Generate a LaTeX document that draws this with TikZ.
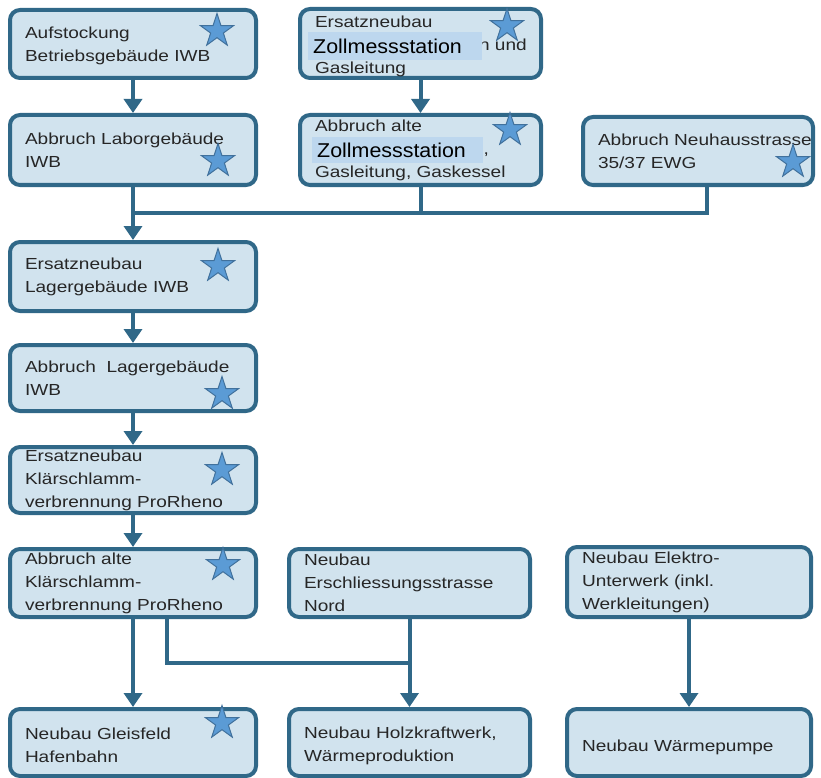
\documentclass[tikz,border=0pt]{standalone}
\usepackage{fontspec}
\usepackage{tikz}
\usetikzlibrary{arrows.meta,shapes.geometric}
\newfontfamily\boxfont[FakeStretch=1.19]{Liberation Sans}
\newfontfamily\zollfont[FakeStretch=1.07]{Liberation Sans}
\definecolor{linec}{RGB}{48,104,136}
\definecolor{boxc}{RGB}{209,227,238}
\definecolor{zollc}{RGB}{189,215,238}
\definecolor{textc}{RGB}{38,38,38}
\definecolor{starc}{RGB}{91,155,213}
\definecolor{stard}{RGB}{65,113,156}
\hyphenpenalty=10000
\tikzset{
  box/.style={draw=linec, fill=boxc, line width=4pt, rounded corners=10pt,
    align=left, inner xsep=15pt, inner ysep=0pt, text=textc,
    font=\boxfont\fontsize{16pt}{23pt}\selectfont},
  zoll/.style={fill=zollc, anchor=north west, align=left, inner xsep=5pt,
    inner ysep=0pt, text=black, font=\zollfont\fontsize{20pt}{24pt}\selectfont},
  starmark/.style={star, star points=5, star point ratio=2.618, minimum size=35pt,
    inner sep=0pt, fill=starc, draw=stard, line width=1pt},
  link/.style={draw=linec, line width=4pt},
  arr/.style={link, -{Triangle[width=18pt,length=14pt]}}
}
\begin{document}
\begin{tikzpicture}[x=1pt,y=-1pt]
\useasboundingbox (0,0) rectangle (821,778);
%%   kw   (name)   (x, y)   {text}
    \node[box, minimum height=68pt, text width=216pt] (A) at (133,44) {\rule{0pt}{15pt}Aufstockung\\Betriebsgebäude IWB};
    \node[box, minimum height=69pt, text width=211pt] (B) at (420.5,43.5) {\rule{0pt}{18pt}Ersatzneubau\\\mbox{\hspace*{164pt}n und}\\Gasleitung};
    \node[box, minimum height=70pt, text width=216pt] (C) at (133,150) {Abbruch Laborgebäude\\IWB};
    \node[box, minimum height=70pt, text width=211pt] (D) at (420.5,150) {Abbruch alte\\\mbox{\hspace*{158pt}n,}\\Gasleitung, Gaskessel};
    \node[box, minimum height=68pt, text width=200pt] (E) at (698,151) {\mbox{Abbruch Neuhausstrasse}\\35/37 EWG};
    \node[box, minimum height=69pt, text width=216pt] (F) at (133,276.5) {Ersatzneubau\\Lagergebäude IWB};
    \node[box, minimum height=66pt, text width=216pt] (G) at (133,378) {Abbruch\ \ Lagergebäude\\IWB};
    \node[box, minimum height=66pt, text width=216pt] (H) at (133,480) {Ersatzneubau\\Klärschlamm-\\verbrennung ProRheno};
    \node[box, minimum height=68pt, text width=216pt] (I) at (133,583) {Abbruch alte\\Klärschlamm-\\verbrennung ProRheno};
    \node[box, minimum height=68pt, text width=211pt] (J) at (409.5,583) {Neubau\\Erschliessungsstrasse\\Nord};
    \node[box, minimum height=70pt, text width=214pt] (K) at (689,582) {Neubau Elektro-\\Unterwerk (inkl.\\Werkleitungen)};
    \node[box, minimum height=67pt, text width=216pt] (L) at (133,742.5) {\rule{0pt}{18pt}Neubau Gleisfeld\\Hafenbahn};
    \node[box, minimum height=67pt, text width=211pt] (M) at (409.5,742.5) {\rule{0pt}{18pt}Neubau Holzkraftwerk,\\Wärmeproduktion};
    \node[box, minimum height=67pt, text width=214pt] (N) at (689,742.5) {\rule{0pt}{22pt}Neubau Wärmepumpe};

    % pasted labels
    \node[zoll, minimum width=174pt, minimum height=28pt, text width=164pt] (zollB) at (308,32) {Zollmessstation};
    \node[zoll, minimum width=171pt, minimum height=26pt, text width=161pt] (zollD) at (312,137) {Zollmessstation};

    \node[starmark] (sA) at (217,31) {};
    \node[starmark] (sB) at (507,26) {};
    \node[starmark] (sC) at (218,161) {};
    \node[starmark] (sD) at (510,130) {};
    \node[starmark] (sE) at (793,162) {};
    \node[starmark] (sF) at (218,266) {};
    \node[starmark] (sG) at (222,394) {};
    \node[starmark] (sH) at (222,470) {};
    \node[starmark] (sI) at (223,565) {};
    \node[starmark] (sL) at (222,723) {};

    \coordinate (busL) at (133,213);
    \coordinate (split) at (167,663);
    \draw[link] ([xshift=9pt]E.south) |- (busL);
    \draw[link] (D.south) -- (D.south |- busL);
    \draw[arr] (A.south) -- (C.north);
    \draw[arr] (B.south) -- (D.north);
    \draw[arr] (C.south) -- (F.north);
    \draw[arr] (F.south) -- (G.north);
    \draw[arr] (G.south) -- (H.north);
    \draw[arr] (H.south) -- (I.north);
    \draw[arr] (I.south) -- (L.north);
    \draw[link] (split |- I.south) |- (J.south |- split);
    \draw[arr] (J.south) -- (M.north);
    \draw[arr] (K.south) -- (N.north);
\end{tikzpicture}
\end{document}
